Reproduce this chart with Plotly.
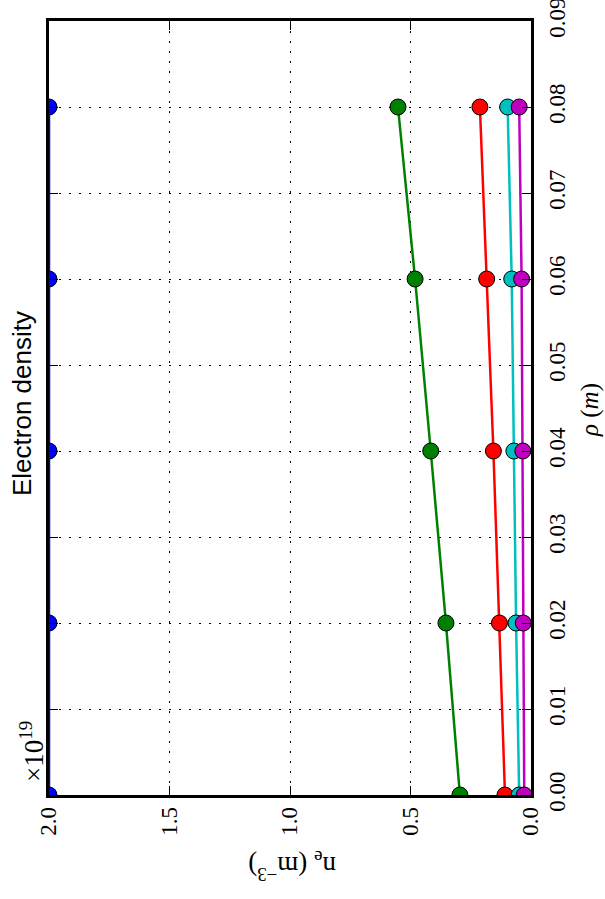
import plotly.graph_objects as go

# Radial positions (m) and electron density profiles (units of 1e19 m^-3)
rho = [0.00, 0.02, 0.04, 0.06, 0.08]
ne_blue = [2.0, 2.0, 2.0, 2.0, 2.0]
ne_green = [0.295, 0.353, 0.416, 0.481, 0.552]
ne_red = [0.108, 0.131, 0.156, 0.184, 0.212]
ne_cyan = [0.049, 0.062, 0.071, 0.080, 0.097]
ne_magenta = [0.028, 0.032, 0.034, 0.039, 0.049]

# Axis ticks
rho_ticks = [0.00, 0.01, 0.02, 0.03, 0.04, 0.05, 0.06, 0.07, 0.08, 0.09]
ne_ticks = [0.0, 0.5, 1.0, 1.5, 2.0]

series = [
    (ne_blue, "#0000ff"),
    (ne_green, "#008000"),
    (ne_red, "#ff0000"),
    (ne_cyan, "#00bfbf"),
    (ne_magenta, "#bf00bf"),
]

W, H = 605, 899
L, R, T, B = 49, 531, 21, 795  # plot area edges in pixels

fig = go.Figure()
for ne, col in series:
    fig.add_trace(go.Scatter(
        x=ne, y=rho, mode="lines+markers",
        line=dict(color=col, width=2.5),
        marker=dict(size=16, color=col, line=dict(color="black", width=1)),
        cliponaxis=True, showlegend=False,
    ))

serif = "Liberation Serif"
grid = dict(showgrid=True, gridcolor="black", gridwidth=1.2, griddash="2px,8px",
            showline=True, linecolor="black", linewidth=2.5, mirror="ticks",
            ticks="inside", ticklen=9, tickwidth=1, tickcolor="black",
            zeroline=False, tickangle=-90, ticklabeloverflow="allow",
            automargin=False,
            tickfont=dict(family=serif, size=23, color="black"))

fig.update_xaxes(range=[2.0000001, -0.0000001], tickvals=ne_ticks,
                 ticktext=[f"{v:.1f}" for v in ne_ticks], **grid)
fig.update_yaxes(range=[-0.0000001, 0.0900001], tickvals=rho_ticks,
                 ticktext=[f"{v:.2f}" for v in rho_ticks],
                 side="right", ticklabelstandoff=4, **grid)


def px(xp):
    return (xp - L) / (R - L)


def py(yp):
    return (B - yp) / (B - T)


ann = [
    dict(text="Electron density", x=px(22), y=py(404), textangle=-90,
         font=dict(family="Liberation Sans", size=26, color="black")),
    dict(text="<i>ρ</i> (<i>m</i>)", x=px(590), y=py(410), textangle=-90,
         font=dict(family=serif, size=25, color="black")),
    dict(text="n<sub>e</sub> (m<sup>−3</sup>)", x=px(292), y=py(866), textangle=180,
         font=dict(family=serif, size=27, color="black")),
    dict(text="×10<sup>19</sup>", x=px(32), y=py(752), textangle=-90,
         font=dict(family=serif, size=27, color="black")),
]
for a in ann:
    fig.add_annotation(xref="paper", yref="paper", showarrow=False,
                       xanchor="center", yanchor="middle", **a)

fig.update_layout(
    width=W, height=H,
    margin=dict(l=L, r=W - R, t=T, b=H - B, pad=0, autoexpand=False),
    paper_bgcolor="white", plot_bgcolor="white",
)

fig.write_html("out.html")
